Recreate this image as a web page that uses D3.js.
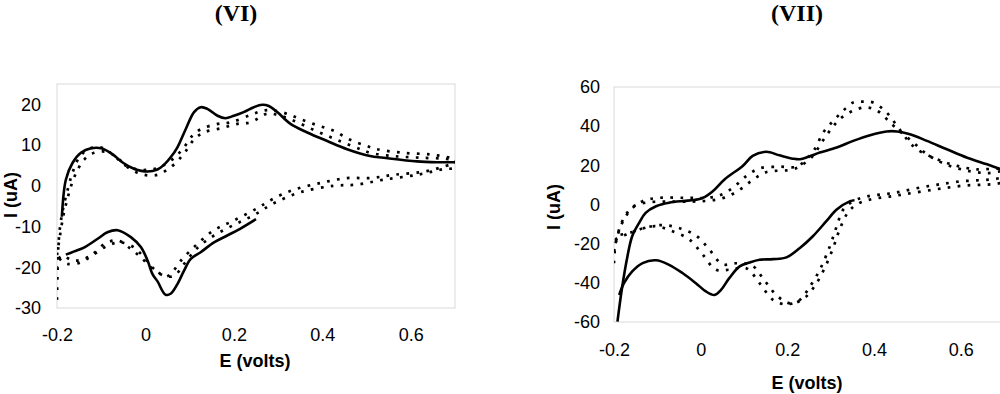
<!DOCTYPE html>
<html><head><meta charset="utf-8">
<script src="https://cdn.jsdelivr.net/npm/d3@7"></script>
<style>
html,body{margin:0;padding:0;background:#fff;}
svg{display:block;}
text{font-family:"Liberation Sans",Arial,sans-serif;fill:#000;}
.title{font-family:"Liberation Serif","Times New Roman",serif;font-weight:bold;}
</style>
</head><body>
<script>
// ---------- DATA (E in volts, I in uA) ----------
const xTicks = [-0.2, 0, 0.2, 0.4, 0.6];
const viYTicks = [-30, -20, -10, 0, 10, 20];
const viiYTicks = [-60, -40, -20, 0, 20, 40, 60];
const titles = ["(VI)", "(VII)"];
const xTitle = "E (volts)";
const yTitle = "I (uA)";

// Panel VI : solid scan (anodic part, cathodic part), two dotted scans
const viSolidFwd = [[-0.189,-7.6],[-0.18,1.5],[-0.165,5.6],[-0.146,8.1],[-0.123,9.2],[-0.1,9.2],[-0.075,7.8],[-0.05,5.6],[-0.026,4.2],[0.005,3.5],[0.027,4],[0.045,5.5],[0.057,7],[0.072,9.4],[0.091,13.9],[0.11,18.1],[0.125,19.3],[0.14,18.9],[0.163,17.2],[0.181,16.6],[0.2,17.2],[0.222,18.1],[0.245,19.3],[0.264,19.9],[0.279,19.6],[0.298,18.1],[0.328,15.2],[0.366,13.1],[0.411,11.0],[0.456,9.0],[0.508,7.3],[0.538,6.9],[0.614,6.0],[0.659,5.8],[0.7,5.8]];
const viSolidRev = [[0.25,-8.2],[0.215,-10.5],[0.185,-12.2],[0.155,-13.9],[0.125,-16.3],[0.102,-18],[0.087,-20.9],[0.072,-24.2],[0.057,-26.5],[0.045,-26.7],[0.027,-23.4],[0.016,-21.7],[0.005,-18.4],[-0.01,-15.1],[-0.033,-12.6],[-0.063,-10.9],[-0.086,-11.4],[-0.108,-13],[-0.138,-15.1],[-0.161,-16.1],[-0.18,-16.9]];
const viDotA = [[-0.2,-28],[-0.199,-22],[-0.197,-15],[-0.193,-10],[-0.187,-6],[-0.176,-1],[-0.165,3.2],[-0.15,6.9],[-0.127,9.1],[-0.1,9.4],[-0.074,7.7],[-0.048,5.2],[-0.018,4.0],[0.012,4.0],[0.035,4.7],[0.061,6.5],[0.084,9.0],[0.106,12.3],[0.125,13.9],[0.163,15.2],[0.193,15.6],[0.238,17.4],[0.268,18.5],[0.29,18.5],[0.32,17.7],[0.35,16.4],[0.388,14.9],[0.426,13.5],[0.463,11.3],[0.5,9.8],[0.523,9.0],[0.583,8.1],[0.644,7.7],[0.689,6.9],[0.7,6.5],
  [0.7,5.5],[0.689,5.2],[0.636,3.6],[0.561,2.7],[0.508,1.9],[0.456,1.9],[0.396,0.7],[0.335,-1],[0.29,-3.1],[0.253,-5.5],[0.2,-8.5],[0.155,-10.9],[0.117,-14.3],[0.08,-18.4],[0.057,-21.7],[0.045,-22.3],[0.035,-21.7],[0.012,-20],[-0.01,-17.6],[-0.033,-15.5],[-0.063,-13.4],[-0.093,-14.3],[-0.123,-17.2],[-0.146,-18.8],[-0.176,-19.2],[-0.19,-18.4],[-0.2,-17]];
const viDotB = [[-0.2,-17],[-0.193,-12],[-0.185,-7],[-0.176,-3],[-0.165,1],[-0.153,4],[-0.138,6.5],[-0.116,8.1],[-0.086,8.3],[-0.06,6.5],[-0.033,4.0],[-0.003,2.7],[0.027,2.7],[0.05,4.0],[0.072,6.0],[0.091,8.5],[0.11,11.4],[0.132,13.1],[0.17,14.1],[0.208,15.2],[0.238,15.6],[0.275,17.7],[0.305,17.2],[0.335,16.0],[0.373,14.1],[0.411,12.3],[0.448,10.6],[0.486,9.0],[0.508,8.1],[0.561,7.3],[0.621,6.9],[0.681,6.6],[0.7,6.2],
  [0.7,4.5],[0.674,4.1],[0.614,2.7],[0.538,1.5],[0.478,0.3],[0.426,0],[0.35,-1.6],[0.29,-4.3],[0.245,-7.2],[0.2,-9.6],[0.155,-12.2],[0.117,-15.3],[0.087,-19.2],[0.065,-22.1],[0.042,-22.1],[0.02,-20.5],[-0.003,-17.6],[-0.026,-15.1],[-0.056,-13.9],[-0.086,-14.7],[-0.123,-17.2],[-0.161,-18.4],[-0.191,-17.2],[-0.2,-20]];

// Panel VII
const viiSolidFwd = [[-0.192,-59.8],[-0.181,-41.9],[-0.169,-26.5],[-0.158,-16.2],[-0.142,-9.4],[-0.127,-4.3],[-0.103,-0.9],[-0.073,0.9],[-0.04,1.8],[-0.015,2.3],[0.005,3.4],[0.028,6.8],[0.055,12.8],[0.097,19.7],[0.12,24.8],[0.151,26.9],[0.182,25.1],[0.213,23.4],[0.229,23.1],[0.25,24.5],[0.275,26.5],[0.314,29.1],[0.352,32.5],[0.391,35.4],[0.429,37.3],[0.453,37.3],[0.483,35.9],[0.522,32.5],[0.568,28.2],[0.615,23.9],[0.661,20.5],[0.7,17.5]];
const viiSolidRev = [[0.355,2.2],[0.345,1.7],[0.314,-2.6],[0.29,-8.5],[0.259,-16.2],[0.229,-22.2],[0.198,-27],[0.167,-27.9],[0.136,-28.2],[0.113,-29.6],[0.09,-31.6],[0.066,-37.6],[0.047,-43.6],[0.032,-46.2],[0.012,-44.4],[-0.011,-40.2],[-0.042,-35],[-0.073,-30.8],[-0.103,-28.5],[-0.134,-29.9],[-0.158,-34.2],[-0.177,-40.2],[-0.188,-46.2]];
const viiDotA = [[-0.2,-30],[-0.196,-19.7],[-0.181,-9.4],[-0.161,-2.6],[-0.134,1.7],[-0.096,3.4],[-0.034,3.4],[0.012,3.4],[0.043,4.6],[0.074,8.5],[0.105,14.5],[0.136,18.5],[0.182,19.3],[0.221,19.3],[0.244,23.1],[0.263,28.2],[0.283,36.8],[0.306,42.7],[0.329,47.9],[0.352,52.1],[0.375,52.5],[0.398,52.1],[0.429,47],[0.453,40.2],[0.476,33.3],[0.499,28.2],[0.546,23.1],[0.592,19.7],[0.639,17.9],[0.685,18.3],[0.7,17.5],
  [0.7,14.5],[0.592,11.6],[0.515,9],[0.445,5.9],[0.383,4.1],[0.352,1.7],[0.329,-2.6],[0.314,-11.1],[0.298,-21.4],[0.275,-33.3],[0.252,-41.9],[0.229,-48.7],[0.198,-51],[0.167,-48.7],[0.136,-40.2],[0.105,-32.5],[0.066,-33.3],[0.035,-33.3],[0.005,-25.6],[-0.026,-17.9],[-0.065,-13.7],[-0.103,-11.1],[-0.142,-12.8],[-0.173,-15.4],[-0.196,-17.9],[-0.2,-22]];
const viiDotB = [[-0.2,-24],[-0.19,-14],[-0.175,-6],[-0.155,-1],[-0.125,1],[-0.08,1.5],[-0.02,1.5],[0.02,2],[0.055,3.5],[0.09,7.5],[0.12,12.5],[0.151,16.5],[0.213,17.9],[0.236,20.5],[0.259,24.8],[0.279,31.6],[0.298,37.6],[0.321,43.6],[0.352,47.9],[0.383,49.6],[0.41,47.5],[0.441,41],[0.468,35.9],[0.491,31.6],[0.52,26],[0.56,21],[0.61,17.5],[0.66,16],[0.7,16.5],
  [0.7,12],[0.6,9.5],[0.52,7],[0.45,4.5],[0.39,2.5],[0.36,0],[0.34,-4],[0.322,-12],[0.306,-22],[0.285,-33],[0.262,-42],[0.238,-48],[0.208,-50.5],[0.178,-47],[0.148,-39],[0.118,-31],[0.082,-30],[0.05,-30.5],[0.02,-23],[-0.01,-16],[-0.05,-12],[-0.09,-10.5],[-0.13,-12],[-0.165,-14.5],[-0.2,-16]];

// ---------- DRAW ----------
const svg = d3.select("body").append("svg").attr("width", 1000).attr("height", 394);

function fmt(d){ return d === 0 ? "0" : String(d); }

function panel(o){
  const x = d3.scaleLinear().domain([-0.2, 0.7]).range([o.left, o.right]);
  const y = d3.scaleLinear().domain(o.yDomain).range([o.bottom, o.top]);
  const g = svg.append("g");
  const cid = "clip" + o.id;
  g.append("clipPath").attr("id", cid).append("rect")
    .attr("x", o.left).attr("y", o.top).attr("width", o.right - o.left).attr("height", o.bottom - o.top);
  g.append("rect").attr("x", o.left).attr("y", o.top)
    .attr("width", o.right - o.left).attr("height", o.bottom - o.top)
    .attr("fill", "none").attr("stroke", "#d9d9d9").attr("stroke-width", 1);
  const ya = g.append("g").attr("transform", `translate(${o.left},0)`)
    .call(d3.axisLeft(y).tickValues(o.yTicks).tickSize(0).tickPadding(o.yPad).tickFormat(fmt));
  const xa = g.append("g").attr("transform", `translate(0,${o.bottom})`)
    .call(d3.axisBottom(x).tickValues(xTicks).tickSize(0).tickPadding(o.xPad).tickFormat(fmt));
  [ya, xa].forEach(a => {
    a.select(".domain").remove();
    a.selectAll("text").attr("font-size", 18).attr("fill", "#000")
      .attr("font-family", '"Liberation Sans", Arial, sans-serif');
  });
  const line = d3.line().x(d => x(d[0])).y(d => y(d[1])).curve(d3.curveCatmullRom.alpha(0.5));
  const lg = g.append("g").attr("clip-path", `url(#${cid})`);
  o.dots.forEach(s => {
    lg.append("path").datum(s).attr("d", line).attr("fill", "none")
      .attr("stroke", "#000").attr("stroke-width", 2.7)
      .attr("stroke-dasharray", "2.7 7.3").attr("stroke-linecap", "butt");
  });
  o.solids.forEach(s => {
    lg.append("path").datum(s).attr("d", line).attr("fill", "none")
      .attr("stroke", "#000").attr("stroke-width", 2.6).attr("stroke-linejoin", "round");
  });
  svg.append("text").attr("class", "title").attr("x", o.titleX).attr("y", o.titleY)
    .attr("text-anchor", "middle").attr("font-size", 24).text(o.title);
  svg.append("text").attr("x", o.xTitleX).attr("y", o.xTitleY)
    .attr("text-anchor", "middle").attr("font-size", 18).attr("font-weight", "bold").text(xTitle);
  svg.append("text").attr("transform", `translate(${o.yTitleX},${o.yTitleY}) rotate(-90)`)
    .attr("text-anchor", "middle").attr("font-size", 18).attr("font-weight", "bold").text(yTitle);
}

panel({id: 1, left: 57, right: 455, top: 84, bottom: 308, yDomain: [-30, 25], yTicks: viYTicks,
  yPad: 16, xPad: 20, solids: [viSolidFwd, viSolidRev], dots: [viDotA, viDotB], title: titles[0],
  titleX: 236, titleY: 21, xTitleX: 255, xTitleY: 367, yTitleX: 17, yTitleY: 195});
panel({id: 2, left: 614, right: 1004, top: 87, bottom: 322, yDomain: [-60, 60], yTicks: viiYTicks,
  yPad: 14, xPad: 21, solids: [viiSolidFwd, viiSolidRev], dots: [viiDotA, viiDotB], title: titles[1],
  titleX: 797, titleY: 21, xTitleX: 807, xTitleY: 389, yTitleX: 560, yTitleY: 207});
</script>
</body></html>
